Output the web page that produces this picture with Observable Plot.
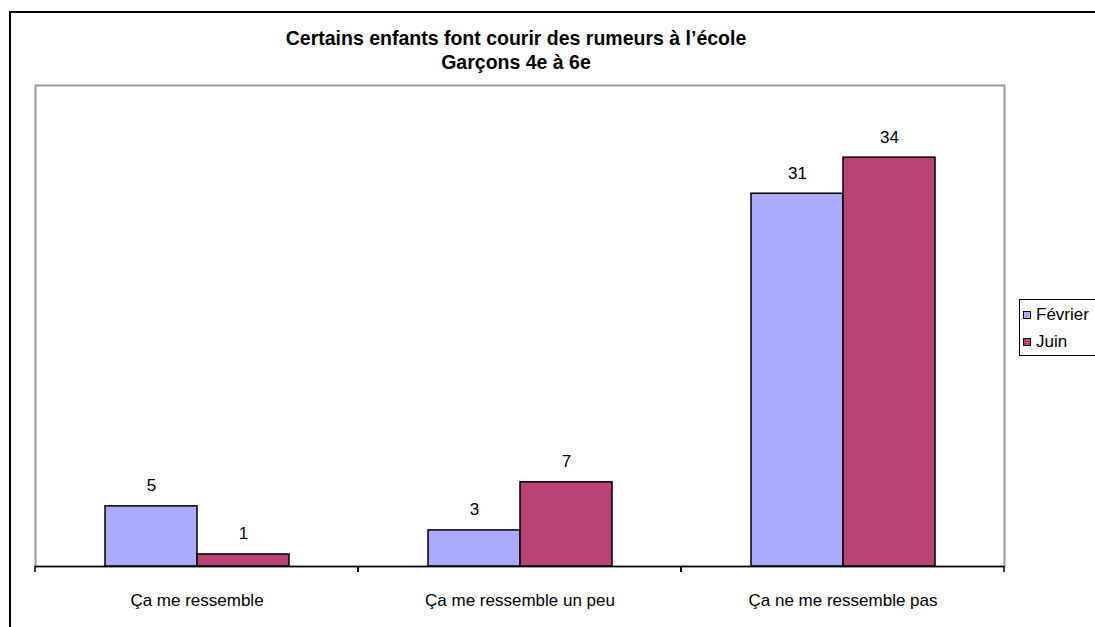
<!DOCTYPE html>
<html><head><meta charset="utf-8">
<script src="https://cdn.jsdelivr.net/npm/d3@7"></script>
<script src="https://cdn.jsdelivr.net/npm/@observablehq/plot@0.6"></script>
<style>
body{margin:0;background:#fff;font-family:"Liberation Sans",Arial,sans-serif;}
#wrap{position:relative;width:1095px;height:627px;overflow:hidden;background:#fff;}
#outer{position:absolute;left:9px;top:11px;width:1110px;height:640px;border:2px solid #000;box-sizing:border-box;}
#chart{position:absolute;left:0;top:0;}
#title{position:absolute;left:0;top:26px;width:1032px;text-align:center;font-weight:bold;font-size:19.5px;line-height:24px;color:#000;}
#legend{position:absolute;left:1019px;top:299px;width:90px;height:57px;border:1.5px solid #000;box-sizing:border-box;font-size:17px;color:#000;}
.item{position:absolute;left:3px;height:20px;line-height:20px;white-space:nowrap;}
.sw{display:inline-block;width:6px;height:6px;border:1.5px solid #000;margin-right:5px;vertical-align:1px;}
</style>
</head><body>
<div id="wrap">
  <div id="outer"></div>
  <div id="chart"></div>
  <div id="title"></div>
  <div id="legend"></div>
</div>
<script>
const titleLines = ["Certains enfants font courir des rumeurs à l’école", "Garçons 4e à 6e"];
const categories = ["Ça me ressemble", "Ça me ressemble un peu", "Ça ne me ressemble pas"];
const series = ["Février", "Juin"];
const fevrier = [5, 3, 31];
const juin = [1, 7, 34];
const colors = ["#aaaaff", "#b94474"];
const yDomain = [0, 40];

const valuesBySeries = [fevrier, juin];
const table = [];
categories.forEach((cat, i) => {
  series.forEach((s, j) => table.push({cat, series: s, value: valuesBySeries[j][i]}));
});

const boundaryTicks = (index, scales) => {
  const x = scales.x, y = scales.y;
  const r = x.range();
  const y0 = y(0);
  const g = d3.create("svg:g").attr("stroke", "#000").attr("stroke-width", 1.5);
  for (const xx of [Math.min(...r), Math.max(...r)]) {
    g.append("line").attr("x1", xx).attr("x2", xx).attr("y1", y0).attr("y2", y0 + 6);
  }
  return g.node();
};

const chart = Plot.plot({
  width: 1095,
  height: 627,
  marginLeft: 34,
  marginRight: 91,
  marginTop: 85,
  marginBottom: 61,
  style: {fontFamily: "'Liberation Sans', Arial, sans-serif", fontSize: "17px", background: "transparent", color: "#000"},
  facet: {data: table, x: "cat"},
  fx: {domain: categories, padding: 0, label: null, tickSize: 0, tickPadding: 27, axis: "bottom"},
  x: {domain: series, paddingInner: 0, paddingOuter: 0.75, axis: null},
  y: {domain: yDomain, axis: null},
  color: {domain: series, range: colors},
  marks: [
    Plot.frame({facet: "super", stroke: "#9a9a9a", strokeWidth: 2}),
    Plot.barY(table, {x: "series", y: "value", fill: "series", stroke: "#000", strokeWidth: 1.5}),
    Plot.text(table, {x: "series", y: "value", text: d => String(d.value), dy: -15, lineAnchor: "bottom", fontSize: 17, fill: "#000"}),
    Plot.ruleY([0], {stroke: "#000", strokeWidth: 1.5}),
    boundaryTicks
  ]
});
document.getElementById("chart").appendChild(chart);

const t = document.getElementById("title");
titleLines.forEach(l => { const d = document.createElement("div"); d.textContent = l; t.appendChild(d); });

const lg = document.getElementById("legend");
series.forEach((s, i) => {
  const it = document.createElement("div");
  it.className = "item";
  it.style.top = (5 + i * 27) + "px";
  const sw = document.createElement("span");
  sw.className = "sw";
  sw.style.background = colors[i];
  it.appendChild(sw);
  it.appendChild(document.createTextNode(s));
  lg.appendChild(it);
});
</script>
</body></html>
